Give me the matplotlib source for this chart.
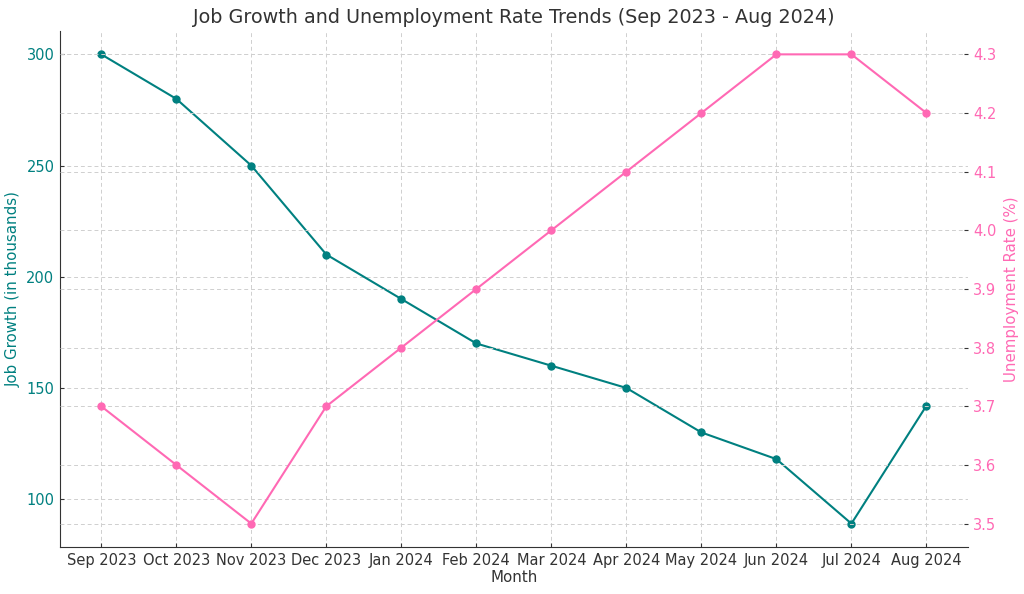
import matplotlib
matplotlib.use("Agg")
import matplotlib.pyplot as plt

months = ["Sep 2023", "Oct 2023", "Nov 2023", "Dec 2023", "Jan 2024", "Feb 2024",
          "Mar 2024", "Apr 2024", "May 2024", "Jun 2024", "Jul 2024", "Aug 2024"]
job_growth = [300, 280, 250, 210, 190, 170, 160, 150, 130, 118, 89, 142]
unemployment = [3.7, 3.6, 3.5, 3.7, 3.8, 3.9, 4.0, 4.1, 4.2, 4.3, 4.3, 4.2]

teal = "#008080"
pink = "#ff69b4"
dark = "#333333"
grid_style = dict(linestyle=(0, (4, 3)), color="#cfcfcf", linewidth=0.7)
tick_style = dict(direction="in", length=3, pad=4, labelsize=10.5, colors=dark)

fig, ax1 = plt.subplots(figsize=(10.24, 5.94), dpi=100)
fig.subplots_adjust(left=0.0586, right=0.945, top=0.948, bottom=0.079)

ax1.plot(months, job_growth, color=teal, marker="o", markersize=5, linewidth=1.5)
ax1.set_xlabel("Month", color=dark, fontsize=10.8, labelpad=2)
ax1.set_ylabel("Job Growth (in thousands)", color=teal, fontsize=10.8, labelpad=4)
ax1.tick_params(axis="y", labelcolor=teal, **tick_style)
ax1.tick_params(axis="x", **tick_style)
ax1.grid(True, **grid_style)

ax2 = ax1.twinx()
ax2.plot(months, unemployment, color=pink, marker="o", markersize=5, linewidth=1.5)
ax2.set_ylabel("Unemployment Rate (%)", color=pink, fontsize=10.8, labelpad=5)
ax2.tick_params(axis="y", labelcolor=pink, **tick_style)
ax2.grid(True, **grid_style)

for ax in (ax1, ax2):
    ax.spines["top"].set_visible(False)
    ax.spines["right"].set_visible(False)
    ax.spines["left"].set_color(dark)
    ax.spines["bottom"].set_color(dark)
ax2.spines["left"].set_visible(False)
ax2.spines["bottom"].set_visible(False)

ax1.set_title("Job Growth and Unemployment Rate Trends (Sep 2023 - Aug 2024)",
              color=dark, fontsize=13.8)

fig.savefig("out.png", dpi=100)
